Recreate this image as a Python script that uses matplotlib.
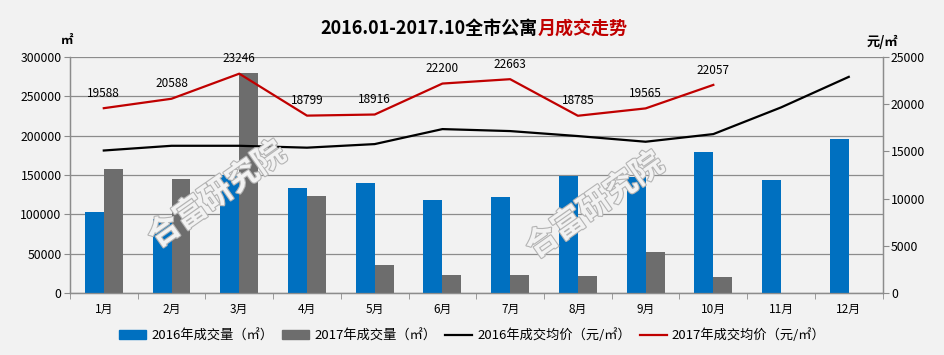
import matplotlib
matplotlib.use("Agg")
import matplotlib.pyplot as plt
import matplotlib.patheffects as pe
from matplotlib.patches import Patch
from matplotlib.lines import Line2D
import numpy as np

plt.rcParams["font.family"] = ["Noto Sans CJK SC", "DejaVu Sans"]

MONTHS = ["1月", "2月", "3月", "4月", "5月", "6月", "7月", "8月", "9月", "10月", "11月", "12月"]
VOL_2016 = [103000, 94000, 150000, 133500, 139800, 118200, 122000, 149000, 147500, 179000, 143600, 195800]
VOL_2017 = [157600, 145000, 280000, 123300, 35600, 22900, 22900, 21600, 52100, 20300]
PRICE_2016 = [15100, 15600, 15600, 15400, 15780, 17370, 17160, 16630, 16030, 16840, 19670, 22910]
PRICE_2017 = [19588, 20588, 23246, 18799, 18916, 22200, 22663, 18785, 19565, 22057]

BG = "#f2f2f2"
BLUE = "#0070c0"
GREY = "#6d6d6d"
RED = "#c00000"
AXIS = "#8c8c8c"


def main() -> None:
    fig = plt.figure(figsize=(9.45, 3.55), dpi=100, facecolor=BG)
    ax = fig.add_axes([0.074, 0.175, 0.86, 0.664], facecolor=BG)
    ax2 = ax.twinx()

    x = np.arange(len(MONTHS))
    w = 0.28
    ax.bar(x - w / 2, VOL_2016, width=w, color=BLUE, zorder=3)
    ax.bar(np.arange(len(VOL_2017)) + w / 2, VOL_2017, width=w, color=GREY, zorder=3)

    ax.set_ylim(0, 300000)
    ax.set_yticks(np.arange(0, 300001, 50000))
    ax.set_xlim(-0.5, len(MONTHS) - 0.5)
    ax.set_xticks(x, MONTHS)
    ax.set_xticks(np.arange(-0.5, len(MONTHS)), minor=True)
    ax.tick_params(axis="x", which="major", length=0, pad=7, labelsize=8.5)
    ax.tick_params(axis="x", which="minor", length=4, color=AXIS)
    ax.tick_params(axis="y", length=4, color=AXIS, labelsize=8.8, pad=2)
    ax.grid(axis="y", color=AXIS, linewidth=0.9, zorder=0)

    ax2.plot(x, PRICE_2016, color="black", linewidth=1.6, zorder=4)
    x17 = np.arange(len(PRICE_2017))
    ax2.plot(x17, PRICE_2017, color=RED, linewidth=1.6, zorder=4)
    for xi, v in zip(x17, PRICE_2017):
        ax2.annotate(f"{v}", (xi, v), xytext=(0, 6), textcoords="offset points",
                     ha="center", va="bottom", fontsize=8.5)
    ax2.set_ylim(0, 25000)
    ax2.set_yticks(np.arange(0, 25001, 5000))
    ax2.tick_params(axis="y", length=4, color=AXIS, labelsize=8.8, pad=2)

    for a in (ax, ax2):
        a.spines["top"].set_visible(False)
        for s in ("left", "right", "bottom"):
            a.spines[s].set_color(AXIS)
            a.spines[s].set_linewidth(0.9)

    # watermark
    for (wx, wy) in [(0.23, 0.45), (0.63, 0.42)]:
        fig.text(wx, wy, "合富研究院", fontsize=23, fontweight="bold", color=BG,
                 rotation=35, ha="center", va="center", zorder=2,
                 path_effects=[pe.withStroke(linewidth=1.6, foreground="#b4b4b4")])

    fig.text(0.071, 0.875, "㎡", fontsize=9, fontweight="bold", ha="center")
    fig.text(0.934, 0.87, "元/㎡", fontsize=9.5, fontweight="bold", ha="center")

    fig.text(0.569, 0.92, "2016.01-2017.10全市公寓", fontsize=13, fontweight="bold",
             ha="right", va="center")
    fig.text(0.569, 0.92, "月成交走势", fontsize=13, fontweight="bold", color=RED,
             ha="left", va="center")

    handles = [Patch(color=BLUE), Patch(color=GREY),
               Line2D([], [], color="black", linewidth=1.6),
               Line2D([], [], color=RED, linewidth=1.6)]
    labels = ["2016年成交量（㎡）", "2017年成交量（㎡）",
              "2016年成交均价（元/㎡）", "2017年成交均价（元/㎡）"]
    fig.legend(handles, labels, loc="center", bbox_to_anchor=(0.5, 0.055), ncol=4,
               frameon=False, fontsize=9.5, handlelength=2.0, handletextpad=0.4,
               columnspacing=0.7)

    fig.savefig("out.png", dpi=100, facecolor=BG)
    plt.close(fig)


if __name__ == "__main__":
    main()
